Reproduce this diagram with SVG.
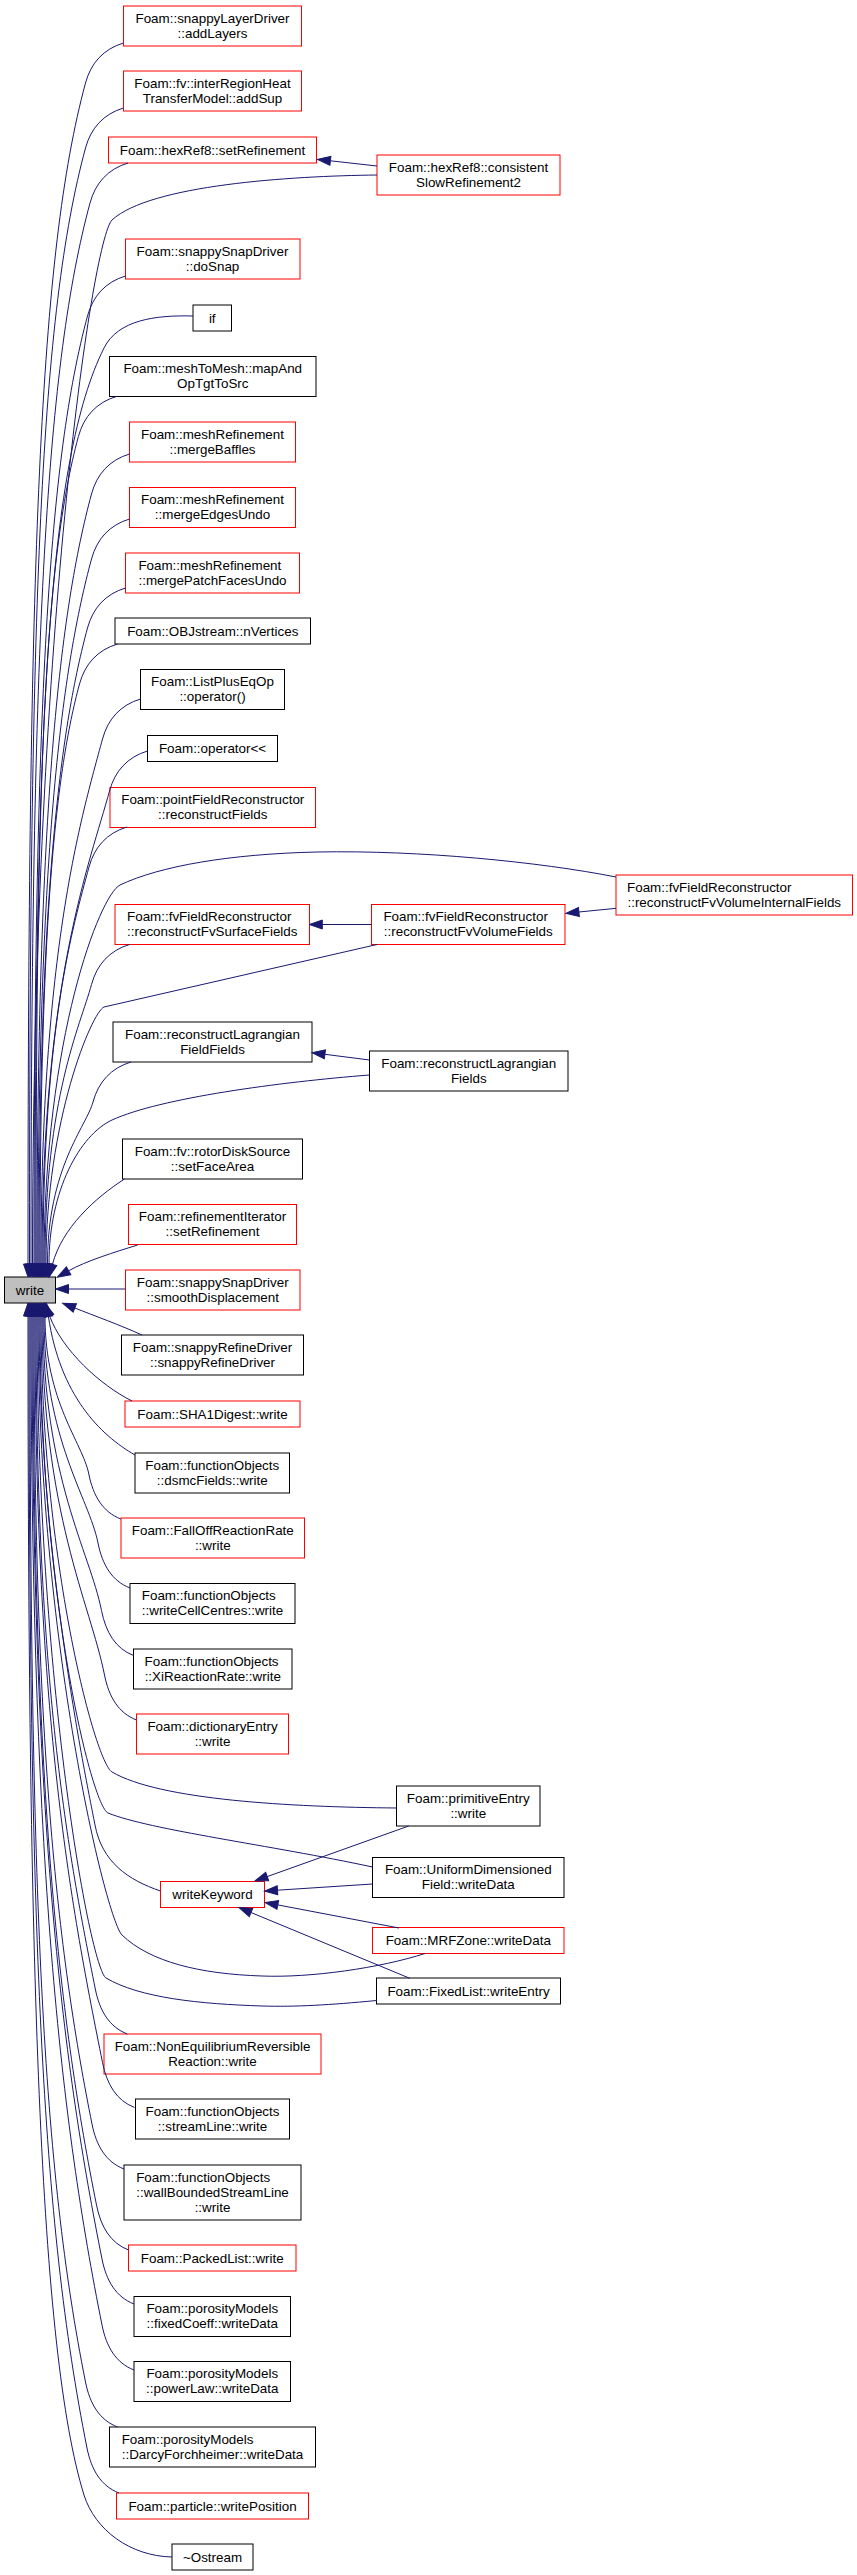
<svg xmlns="http://www.w3.org/2000/svg" width="857" height="2575" viewBox="0 0 857 2575">
<defs>
<style>
.r{fill:#fff;stroke:#ff0000;stroke-width:1}
.b{fill:#fff;stroke:#000;stroke-width:1}
.g{fill:#bfbfbf;stroke:#000;stroke-width:1}
text{font-family:"Liberation Sans",Arial,Helvetica,sans-serif;font-size:13.4px;fill:#000;text-anchor:middle}
text.l{text-anchor:start}
.e{fill:none;stroke:#191970;stroke-width:1;marker-end:url(#ah)}
</style>
<marker id="ah" markerUnits="userSpaceOnUse" markerWidth="13" markerHeight="9" refX="0" refY="4.5" orient="auto" viewBox="0 0 13 9" overflow="visible">
<path d="M0,0 L13,4.5 L0,9 z" fill="#191970" stroke="#191970"/>
</marker>
</defs>
<rect x="0" y="0" width="857" height="2575" fill="#fff"/>
<g id="nodes">
<g id="n1"><rect class="r" x="123.5" y="6" width="178" height="40"/><text x="212.5" y="22.5">Foam::snappyLayerDriver</text><text x="212.5" y="37.5">::addLayers</text></g>
<g id="n2"><rect class="r" x="123.5" y="71" width="178" height="40"/><text x="212.5" y="87.5">Foam::fv::interRegionHeat</text><text x="212.5" y="102.5">TransferModel::addSup</text></g>
<g id="n3"><rect class="r" x="108.5" y="137" width="208" height="26"/><text x="212.5" y="154.5">Foam::hexRef8::setRefinement</text></g>
<g id="n4"><rect class="r" x="377" y="155" width="183" height="40"/><text x="468.5" y="171.5">Foam::hexRef8::consistent</text><text x="468.5" y="186.5">SlowRefinement2</text></g>
<g id="n5"><rect class="r" x="125.5" y="239" width="174.5" height="40"/><text x="212.5" y="255.5">Foam::snappySnapDriver</text><text x="212.5" y="270.5">::doSnap</text></g>
<g id="n6"><rect class="b" x="193" y="305" width="38.5" height="26"/><text x="212.25" y="322.5">if</text></g>
<g id="n7"><rect class="b" x="109.5" y="356.5" width="206.5" height="40"/><text x="212.75" y="373">Foam::meshToMesh::mapAnd</text><text x="212.75" y="388">OpTgtToSrc</text></g>
<g id="n8"><rect class="r" x="129.5" y="422" width="166" height="40"/><text x="212.5" y="438.5">Foam::meshRefinement</text><text x="212.5" y="453.5">::mergeBaffles</text></g>
<g id="n9"><rect class="r" x="129.5" y="487.5" width="166" height="40"/><text x="212.5" y="504">Foam::meshRefinement</text><text x="212.5" y="519">::mergeEdgesUndo</text></g>
<g id="n10"><rect class="r" x="125.5" y="553" width="174" height="40"/><text class="l" x="138.4" y="569.5">Foam::meshRefinement</text><text x="212.5" y="584.5">::mergePatchFacesUndo</text></g>
<g id="n11"><rect class="b" x="115" y="618" width="195.5" height="26"/><text x="212.75" y="635.5">Foam::OBJstream::nVertices</text></g>
<g id="n12"><rect class="b" x="140.5" y="669.5" width="144" height="40"/><text x="212.5" y="686">Foam::ListPlusEqOp</text><text x="212.5" y="701">::operator()</text></g>
<g id="n13"><rect class="b" x="147.5" y="735.5" width="130" height="26"/><text x="212.5" y="753">Foam::operator&lt;&lt;</text></g>
<g id="n14"><rect class="r" x="110" y="787.5" width="205.5" height="40"/><text x="212.75" y="804">Foam::pointFieldReconstructor</text><text x="212.75" y="819">::reconstructFields</text></g>
<g id="n15"><rect class="r" x="616" y="875" width="236.5" height="40"/><text class="l" x="627" y="891.5">Foam::fvFieldReconstructor</text><text x="734.25" y="906.5">::reconstructFvVolumeInternalFields</text></g>
<g id="n16"><rect class="r" x="115" y="904.5" width="194.5" height="40"/><text class="l" x="127" y="921">Foam::fvFieldReconstructor</text><text x="212.25" y="936">::reconstructFvSurfaceFields</text></g>
<g id="n17"><rect class="r" x="371.5" y="904.5" width="193.5" height="40"/><text class="l" x="383.4" y="921">Foam::fvFieldReconstructor</text><text x="468.25" y="936">::reconstructFvVolumeFields</text></g>
<g id="n18"><rect class="b" x="113" y="1022" width="199" height="40"/><text x="212.5" y="1038.5">Foam::reconstructLagrangian</text><text x="212.5" y="1053.5">FieldFields</text></g>
<g id="n19"><rect class="b" x="369.5" y="1051" width="198.5" height="40"/><text x="468.75" y="1067.5">Foam::reconstructLagrangian</text><text x="468.75" y="1082.5">Fields</text></g>
<g id="n20"><rect class="b" x="122.5" y="1139" width="180" height="40"/><text x="212.5" y="1155.5">Foam::fv::rotorDiskSource</text><text x="212.5" y="1170.5">::setFaceArea</text></g>
<g id="n21"><rect class="r" x="128.5" y="1204.5" width="168" height="40"/><text x="212.5" y="1221">Foam::refinementIterator</text><text x="212.5" y="1236">::setRefinement</text></g>
<g id="n22"><rect class="g" x="4.5" y="1277" width="51" height="26"/><text x="30" y="1294.5">write</text></g>
<g id="n23"><rect class="r" x="125.5" y="1270" width="174.5" height="40"/><text x="212.75" y="1286.5">Foam::snappySnapDriver</text><text x="212.75" y="1301.5">::smoothDisplacement</text></g>
<g id="n24"><rect class="b" x="121.5" y="1335" width="182" height="40"/><text x="212.5" y="1351.5">Foam::snappyRefineDriver</text><text x="212.5" y="1366.5">::snappyRefineDriver</text></g>
<g id="n25"><rect class="r" x="125" y="1401" width="175" height="26"/><text x="212.5" y="1418.5">Foam::SHA1Digest::write</text></g>
<g id="n26"><rect class="b" x="135" y="1453" width="154.5" height="40"/><text x="212.25" y="1469.5">Foam::functionObjects</text><text x="212.25" y="1484.5">::dsmcFields::write</text></g>
<g id="n27"><rect class="r" x="121" y="1518" width="183.5" height="40"/><text x="212.75" y="1534.5">Foam::FallOffReactionRate</text><text x="212.75" y="1549.5">::write</text></g>
<g id="n28"><rect class="b" x="130" y="1583.5" width="165" height="40"/><text class="l" x="141.8" y="1600">Foam::functionObjects</text><text x="212.5" y="1615">::writeCellCentres::write</text></g>
<g id="n29"><rect class="b" x="133.5" y="1649" width="158.5" height="40"/><text class="l" x="144.6" y="1665.5">Foam::functionObjects</text><text x="212.75" y="1680.5">::XiReactionRate::write</text></g>
<g id="n30"><rect class="r" x="136.5" y="1714" width="152" height="40"/><text x="212.5" y="1730.5">Foam::dictionaryEntry</text><text x="212.5" y="1745.5">::write</text></g>
<g id="n31"><rect class="b" x="396.5" y="1786" width="143.5" height="40"/><text x="468.25" y="1802.5">Foam::primitiveEntry</text><text x="468.25" y="1817.5">::write</text></g>
<g id="n32"><rect class="b" x="372.5" y="1857.5" width="191.5" height="40"/><text x="468.25" y="1874">Foam::UniformDimensioned</text><text x="468.25" y="1889">Field::writeData</text></g>
<g id="n33"><rect class="r" x="160.5" y="1881.5" width="104" height="26"/><text x="212.5" y="1899">writeKeyword</text></g>
<g id="n34"><rect class="r" x="372.5" y="1927.5" width="191.5" height="26"/><text x="468.25" y="1945">Foam::MRFZone::writeData</text></g>
<g id="n35"><rect class="b" x="376.5" y="1978" width="184" height="26"/><text x="468.5" y="1995.5">Foam::FixedList::writeEntry</text></g>
<g id="n36"><rect class="r" x="104" y="2034" width="217" height="40"/><text x="212.5" y="2050.5">Foam::NonEquilibriumReversible</text><text x="212.5" y="2065.5">Reaction::write</text></g>
<g id="n37"><rect class="b" x="135.5" y="2099" width="154" height="40"/><text x="212.5" y="2115.5">Foam::functionObjects</text><text x="212.5" y="2130.5">::streamLine::write</text></g>
<g id="n38"><rect class="b" x="124" y="2165" width="177" height="55"/><text class="l" x="136.2" y="2181.5">Foam::functionObjects</text><text class="l" x="136.2" y="2196.5">::wallBoundedStreamLine</text><text x="212.5" y="2211.5">::write</text></g>
<g id="n39"><rect class="r" x="128.5" y="2245" width="167.5" height="26"/><text x="212.25" y="2262.5">Foam::PackedList::write</text></g>
<g id="n40"><rect class="b" x="134" y="2296.5" width="156.5" height="40"/><text x="212.25" y="2313">Foam::porosityModels</text><text x="212.25" y="2328">::fixedCoeff::writeData</text></g>
<g id="n41"><rect class="b" x="134" y="2361.5" width="156.5" height="40"/><text x="212.25" y="2378">Foam::porosityModels</text><text x="212.25" y="2393">::powerLaw::writeData</text></g>
<g id="n42"><rect class="b" x="109.5" y="2427" width="206" height="40"/><text class="l" x="121.7" y="2443.5">Foam::porosityModels</text><text x="212.5" y="2458.5">::DarcyForchheimer::writeData</text></g>
<g id="n43"><rect class="r" x="116.5" y="2493" width="192" height="26"/><text x="212.5" y="2510.5">Foam::particle::writePosition</text></g>
<g id="n44"><rect class="b" x="172" y="2544" width="81" height="26"/><text x="212.5" y="2561.5">~Ostream</text></g>
</g>
<g id="edges">
<path class="e" d="M123.5,43 C103.5,49 90.9,63 85.5,83 C39.5,253.4 28,555.8 28,1264"/>
<path class="e" d="M123.5,108 C103.5,114 90.9,128 85.5,148 C40.7,313.9 29.5,594.8 29.5,1264"/>
<path class="e" d="M128,163 C108,169 95.4,183 90,203 C47,362.3 31,627.8 31,1264"/>
<path class="e" d="M377,175 C290,176 150,185 112,220 C92,240 32.5,640 32.5,1264"/>
<path class="e" d="M377,166 L330.4,160.8"/>
<path class="e" d="M125.5,276 C105.5,282 92.9,296 87.5,316 C49.1,458.4 34,695.6 34,1264"/>
<path class="e" d="M193,316 C155,315 118,320 104,348 C48.8,458.4 35,714.8 35,1264"/>
<path class="e" d="M116.4,396.5 C96.4,402.5 83.8,416.5 78.4,436.5 C44.8,560.8 36,767.9 36,1264"/>
<path class="e" d="M129.5,454 C109.5,460 96.9,474 91.5,494 C60.3,609.7 37,802.4 37,1264"/>
<path class="e" d="M129.5,519 C109.5,525 96.9,539 91.5,559 C62.9,664.9 38,841.4 38,1264"/>
<path class="e" d="M125.5,588 C105.5,594 92.9,608 87.5,628 C61.7,723.6 39,882.8 39,1264"/>
<path class="e" d="M117.5,644 C97.5,650 84.9,664 79.5,684 C56,771.2 40,916.4 40,1264"/>
<path class="e" d="M140.5,699 C120.5,705 107.9,719 102.5,739 C81.2,817.9 41,949.4 41,1264"/>
<path class="e" d="M147.5,751 C127.5,757 114.9,771 109.5,791 C90.3,862.1 42,980.6 42,1264"/>
<path class="e" d="M127,827 C107,833 94.4,847 89,867 C72.9,926.7 43,1026.2 43,1264"/>
<path class="e" d="M616,877 C540,862 420,850 317,852 C230,854 160,866 120,885 C100,895 44,1037 44,1264"/>
<path class="e" d="M616,908.3 L578.9,912"/>
<path class="e" d="M129.5,944.5 C109.5,950.5 96.9,964.5 91.5,984.5 C80.1,1026.6 45,1096.7 45,1264"/>
<path class="e" d="M377,944.5 L104,1007 C92,1012 46,1120 46,1264"/>
<path class="e" d="M371.5,924.5 L322.3,924.5"/>
<path class="e" d="M131,1062 C111,1068 98.4,1082 93,1102 C86.4,1126.5 47.5,1167.2 47.5,1264"/>
<path class="e" d="M369.5,1075 C280,1082 160,1098 112,1120 C80,1135 49,1190 49,1264"/>
<path class="e" d="M369.5,1060 L324.9,1054.3"/>
<path class="e" d="M124.5,1179 C95,1198 62,1228 52.4,1264.5"/>
<path class="e" d="M137.7,1245 C115,1252 86,1261 68.6,1270.8"/>
<path class="e" d="M125.5,1289 L68.5,1289"/>
<path class="e" d="M142,1335 C120,1325 95,1316 74.8,1308"/>
<path class="e" d="M132,1401 C100,1385 62,1350 49.5,1315.7"/>
<path class="e" d="M135,1455 C100,1435 60,1395 48.4,1316.4"/>
<path class="e" d="M120.8,1519 C102.8,1512 93.2,1496 88.8,1474 C82.4,1442.2 45,1402.4 45,1316"/>
<path class="e" d="M130,1588 C112,1581 102.4,1565 98,1543 C88.9,1497.4 44,1440.4 44,1316"/>
<path class="e" d="M133.5,1655.5 C115.5,1648.5 105.9,1632.5 101.5,1610.5 C89.7,1551.4 43,1477.5 43,1316"/>
<path class="e" d="M136.5,1720 C118.5,1713 108.9,1697 104.5,1675 C90.1,1603 42,1513 42,1316"/>
<path class="e" d="M396.5,1808 C290,1807 160,1800 112,1772 C95,1762 41,1560 41,1316"/>
<path class="e" d="M408.7,1826 L267.2,1876.6"/>
<path class="e" d="M372.5,1867 C270,1845 150,1830 108,1813 C92,1806 40,1600 40,1316"/>
<path class="e" d="M372.5,1884 L277.5,1890.2"/>
<path class="e" d="M160.5,1891 C128,1880 102,1862 95,1825 C88,1788 39,1560 39,1316"/>
<path class="e" d="M425,1953.5 C380,1968 310,1978 262,1976 C200,1974 150,1962 122,1935 C106,1919 38,1640 38,1316"/>
<path class="e" d="M399,1928 L277.8,1904.9"/>
<path class="e" d="M376.5,2000.5 C330,2005 295,2007 262,2006 C200,2004 140,1998 106,1978 C90,1968 37,1680 37,1316"/>
<path class="e" d="M409.8,1978.3 L251,1912.5"/>
<path class="e" d="M127.3,2034 C109.3,2027 99.7,2011 95.3,1989 C68.3,1854.2 36,1685.7 36,1316"/>
<path class="e" d="M134.5,2107.5 C116.5,2100.5 106.9,2084.5 102.5,2062.5 C72.6,1913 35,1726.1 35,1316"/>
<path class="e" d="M124,2169 C106,2162 96.4,2146 92,2124 C59.6,1962.2 34,1760 34,1316"/>
<path class="e" d="M128.5,2250 C110.5,2243 100.9,2227 96.5,2205 C60.9,2027 33,1804.5 33,1316"/>
<path class="e" d="M134,2304 C116,2297 106.4,2281 102,2259 C64.2,2070.2 32,1834.2 32,1316"/>
<path class="e" d="M134,2370 C116,2363 106.4,2347 102,2325 C61.6,2123 31,1870.5 31,1316"/>
<path class="e" d="M117.5,2427 C99.5,2420 89.9,2404 85.5,2382 C42.8,2168.6 30,1901.8 30,1316"/>
<path class="e" d="M119,2493 C101,2486 91.4,2470 87,2448 C41.7,2221.4 29,1938.1 29,1316"/>
<path class="e" d="M172,2557 C130,2556 95,2530 84,2495 C39.2,2350.5 28,1964 28,1316"/>
</g>
</svg>
